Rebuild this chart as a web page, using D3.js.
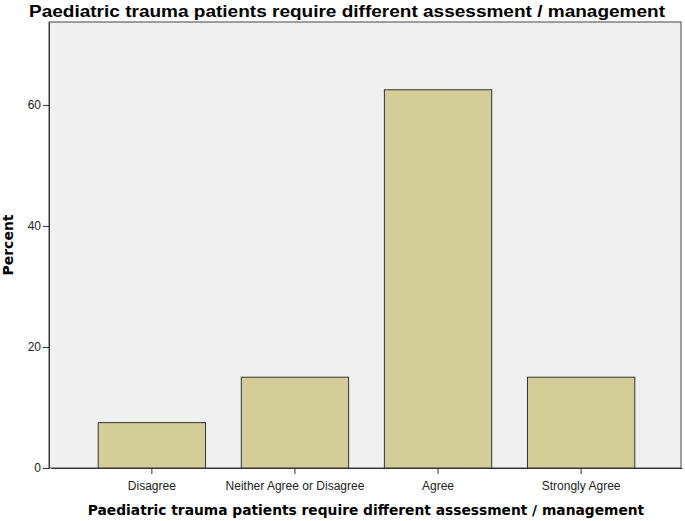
<!DOCTYPE html>
<html>
<head>
<meta charset="utf-8">
<script src="https://cdn.jsdelivr.net/npm/d3@7"></script>
<style>
	body { margin: 0; background: #fff; }
	svg { display: block; }
</style>
</head>
<body>
<div id="graph"></div>
<script>
// chart data
var categories = ["Disagree", "Neither Agree or Disagree", "Agree", "Strongly Agree"];
var percents = [7.5, 15, 62.5, 15];
var yTicks = [0, 20, 40, 60];
var chartTitle = "Paediatric trauma patients require different assessment / management";
var xTitle = "Paediatric trauma patients require different assessment / management";
var yTitle = "Percent";

var SVGwidth = 685,
	SVGheight = 521,
	margin = {top: 22, right: 4, bottom: 53, left: 49},
	width = SVGwidth - margin.left - margin.right,
	height = SVGheight - margin.top - margin.bottom;

var svg = d3.select("div#graph")
	.append("svg")
	.attr("width", SVGwidth)
	.attr("height", SVGheight);

var g = svg.append("g").attr("transform", "translate(" + margin.left + "," + margin.top + ")");

var x = d3.scaleBand()
	.domain(categories)
	.range([2, width + 1])
	.paddingInner(0.25)
	.paddingOuter(0.33);

var y = d3.scaleLinear()
	.domain([0, 73.7])
	.range([height, 0]);

// plot background
g.append("rect")
	.attr("width", width)
	.attr("height", height)
	.attr("fill", "#f0f0f0")
	.attr("stroke", "#444")
	.attr("stroke-width", 1);

// bars
g.selectAll("rect.bar")
	.data(percents)
	.enter()
	.append("rect")
	.attr("class", "bar")
	.attr("x", function(d, i) { return x(categories[i]); })
	.attr("y", function(d) { return y(d); })
	.attr("width", x.bandwidth())
	.attr("height", function(d) { return height - y(d); })
	.attr("fill", "#d3ce98")
	.attr("stroke", "#333")
	.attr("stroke-width", 1);

// axes
var xAxis = d3.axisBottom(x).tickSize(6).tickSizeOuter(0);
var yAxis = d3.axisLeft(y).tickValues(yTicks).tickSize(6).tickSizeOuter(0);

var gx = g.append("g")
	.attr("transform", "translate(0," + height + ")")
	.call(xAxis);
gx.select(".domain").attr("stroke", "#333");
gx.selectAll(".tick line").attr("stroke", "#333");
gx.selectAll(".tick text")
	.attr("dy", "1.05em")
	.attr("fill", "#222")
	.style("font-family", "Liberation Sans, Arial, sans-serif")
	.style("font-size", "12px");

var gy = g.append("g").call(yAxis);
gy.select(".domain").attr("stroke", "#333");
gy.selectAll(".tick line").attr("stroke", "#333");
gy.selectAll(".tick text")
	.attr("x", -8)
	.attr("fill", "#222")
	.style("font-family", "Liberation Sans, Arial, sans-serif")
	.style("font-size", "12px");

// titles
svg.append("text")
	.attr("x", 29)
	.attr("y", 17)
	.attr("textLength", 636)
	.attr("lengthAdjust", "spacingAndGlyphs")
	.style("font-family", "Liberation Sans, Arial, sans-serif")
	.style("font-weight", "bold")
	.style("font-size", "17px")
	.attr("fill", "#000")
	.text(chartTitle);

svg.append("text")
	.attr("x", 366)
	.attr("y", 515)
	.attr("text-anchor", "middle")
	.style("font-family", "DejaVu Sans, sans-serif")
	.style("font-weight", "bold")
	.style("font-size", "13.8px")
	.attr("fill", "#000")
	.text(xTitle);

svg.append("text")
	.attr("transform", "translate(13," + (margin.top + height / 2) + ") rotate(-90)")
	.attr("text-anchor", "middle")
	.style("font-family", "DejaVu Sans, sans-serif")
	.style("font-weight", "bold")
	.style("font-size", "14px")
	.attr("fill", "#000")
	.text(yTitle);
</script>
</body>
</html>
